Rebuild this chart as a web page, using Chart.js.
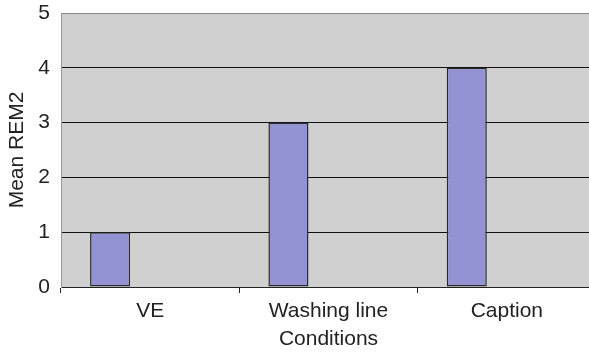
<!DOCTYPE html>
<html>
<head>
<meta charset="utf-8">
<script src="https://cdn.jsdelivr.net/npm/chart.js@4"></script>
<style>
  html, body { margin: 0; padding: 0; background: #fff; overflow: hidden; }
  #wrap { width: 597px; height: 352px; }
</style>
</head>
<body>
<div id="wrap"><canvas id="myChart"></canvas></div>
<script>
// Data
var conditions = ['VE', 'Washing line', 'Caption'];
var meanRem2 = [1, 3, 4];
// the original has two more (empty) series, so each bar sits in the first slot of its group
var emptySeries = [null, null, null];
var yTicks = [0, 1, 2, 3, 4, 5];

// grey plot area
var plotBackground = {
  id: 'plotBackground',
  beforeDraw: function(chart) {
    var a = chart.chartArea;
    var c = chart.ctx;
    c.save();
    c.fillStyle = '#d0d0d0';
    c.fillRect(a.left, a.top, a.right - a.left, a.bottom - a.top);
    c.restore();
  }
};

Chart.defaults.font.family = '"Liberation Sans", Arial, sans-serif';
Chart.defaults.font.size = 21;
Chart.defaults.color = '#222';

var ctx = document.getElementById('myChart');
var chart = new Chart(ctx, {
  type: 'bar',
  data: {
    labels: conditions,
    datasets: [
      { label: 'Mean REM2', data: meanRem2, backgroundColor: '#9393d3', borderColor: '#2a2a2a', borderWidth: 1.5, borderSkipped: false },
      { label: 'empty 1', data: emptySeries },
      { label: 'empty 2', data: emptySeries }
    ]
  },
  options: {
    responsive: true,
    maintainAspectRatio: false,
    animation: false,
    categoryPercentage: 0.674,
    barPercentage: 1,
    layout: { padding: { top: 13, right: 1, left: 0, bottom: 0 } },
    plugins: { legend: { display: false }, tooltip: { enabled: false } },
    scales: {
      x: {
        grid: { drawOnChartArea: false, drawTicks: true, tickLength: 6, offset: true, color: '#222' },
        border: { color: '#222', width: 1 },
        ticks: { padding: 6 },
        title: { display: true, text: 'Conditions', padding: { top: -6, bottom: 0 } },
        afterFit: function(scale) { scale.height = 65; }
      },
      y: {
        min: 0,
        max: 5,
        afterBuildTicks: function(scale) { scale.ticks = yTicks.map(function(v) { return { value: v }; }); },
        grid: {
          color: function(c) { return c.tick && c.tick.value === 5 ? '#888' : '#111'; },
          drawTicks: false
        },
        border: { color: '#999', width: 1 },
        ticks: { padding: 11 },
        title: { display: true, text: 'Mean REM2', padding: { top: 5, bottom: 0 } },
        afterFit: function(scale) {
          scale.width = 61;
          scale.paddingTop = 0;
          scale.paddingBottom = 0;
        }
      }
    }
  },
  plugins: [plotBackground]
});
</script>
</body>
</html>
